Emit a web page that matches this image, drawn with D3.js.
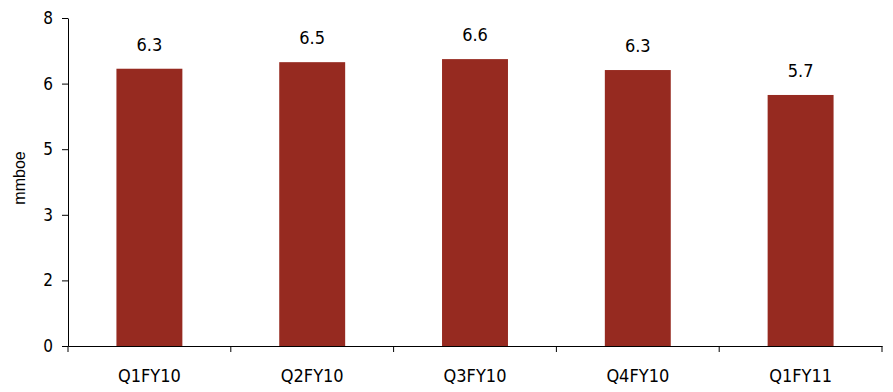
<!DOCTYPE html>
<html>
<head>
<meta charset="utf-8">
<script src="https://cdn.jsdelivr.net/npm/d3@7"></script>
<style>
    body { margin: 0; background: #fff; }
    svg { display: block; }
    .cond { font-family: "DejaVu Sans Condensed", "DejaVu Sans"; font-stretch: condensed; }
</style>
</head>
<body>
<div id="container"></div>
<script>
    // Data
    let quarters = ["Q1FY10", "Q2FY10", "Q3FY10", "Q4FY10", "Q1FY11"];
    let production = [6.34, 6.49, 6.56, 6.31, 5.74];
    let yTicks = [0, 1.5, 3, 4.5, 6, 7.5];
    let yTickLabels = ["0", "2", "3", "5", "6", "8"];

    // Set up SVG
    let W = 893, H = 392;
    let margin = { top: 18, right: 11, bottom: 46, left: 68 };

    let svg = d3.select("#container")
        .append("svg")
        .attr("width", W)
        .attr("height", H);

    let x = d3.scaleBand()
        .domain(quarters)
        .range([margin.left, W - margin.right])
        .padding(0);

    let y = d3.scaleLinear()
        .domain([0, 7.5])
        .range([H - margin.bottom, margin.top]);

    let barW = x.bandwidth() * 0.405;

    // Bars
    svg.selectAll("rect.bar")
        .data(production)
        .enter()
        .append("rect")
        .attr("class", "bar")
        .attr("x", (d, i) => x(quarters[i]) + (x.bandwidth() - barW) / 2)
        .attr("y", d => y(d))
        .attr("width", barW)
        .attr("height", d => y(0) - y(d))
        .attr("fill", "#962a20");

    // Value labels
    svg.selectAll("text.val")
        .data(production)
        .enter()
        .append("text")
        .attr("class", "val cond")
        .attr("x", (d, i) => x(quarters[i]) + x.bandwidth() / 2)
        .attr("y", d => y(d) - 18)
        .attr("text-anchor", "middle")
        .attr("font-size", 18)
        .attr("fill", "#000")
        .text(d => d.toFixed(1));

    // Y axis
    let yAxis = svg.append("g")
        .attr("transform", `translate(${margin.left},0)`)
        .call(d3.axisLeft(y)
            .tickValues(yTicks)
            .tickFormat((d, i) => yTickLabels[i])
            .tickSize(6)
            .tickSizeOuter(0)
            .tickPadding(9));
    yAxis.selectAll("text")
        .attr("class", "cond")
        .attr("font-size", 17)
        .attr("fill", "#000");

    // X axis: labels centred, tick marks on category boundaries
    let xAxis = svg.append("g")
        .attr("transform", `translate(0,${y(0)})`)
        .call(d3.axisBottom(x).tickSize(0).tickPadding(23).tickSizeOuter(0));
    xAxis.selectAll("text")
        .attr("class", "cond")
        .attr("font-size", 18)
        .attr("fill", "#000");

    let bounds = quarters.map(q => x(q)).concat([x.range()[1]]);
    xAxis.selectAll("line.bound")
        .data(bounds)
        .enter()
        .append("line")
        .attr("class", "bound")
        .attr("x1", d => d).attr("x2", d => d)
        .attr("y1", 0).attr("y2", 6)
        .attr("stroke", "#000");

    svg.selectAll(".domain").attr("stroke", "#000");

    // Axis title
    svg.append("text")
        .attr("transform", `translate(25,178) rotate(-90)`)
        .attr("text-anchor", "middle")
        .style("font-family", "'Liberation Sans', Arial, sans-serif")
        .style("font-size", "16px")
        .attr("fill", "#000")
        .text("mmboe");
</script>
</body>
</html>
